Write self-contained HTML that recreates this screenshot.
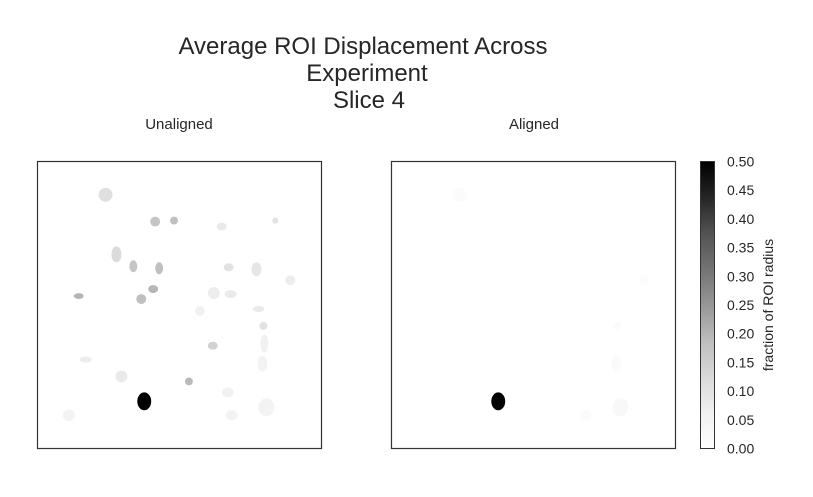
<!DOCTYPE html>
<html><head><meta charset="utf-8"><style>
body{margin:0;background:#fff;}
text{font-family:"Liberation Sans",Arial,sans-serif;fill:#262626;}
</style></head><body>
<svg width="813" height="492" viewBox="0 0 813 492" xmlns="http://www.w3.org/2000/svg">
<defs>
<linearGradient id="cb" x1="0" y1="1" x2="0" y2="0">
<stop offset="0" stop-color="rgb(255,255,255)"/><stop offset="0.125" stop-color="rgb(240,240,240)"/><stop offset="0.25" stop-color="rgb(217,217,217)"/><stop offset="0.375" stop-color="rgb(189,189,189)"/><stop offset="0.5" stop-color="rgb(150,150,150)"/><stop offset="0.625" stop-color="rgb(115,115,115)"/><stop offset="0.75" stop-color="rgb(82,82,82)"/><stop offset="0.875" stop-color="rgb(37,37,37)"/><stop offset="1" stop-color="rgb(0,0,0)"/>
</linearGradient>
</defs>
<text x="363" y="54" font-size="24" text-anchor="middle">Average ROI Displacement Across</text>
<text x="367" y="81" font-size="24" text-anchor="middle">Experiment</text>
<text x="369" y="108" font-size="24" text-anchor="middle">Slice 4</text>
<text x="179" y="129" font-size="15" text-anchor="middle">Unaligned</text>
<text x="534" y="129" font-size="15" text-anchor="middle">Aligned</text>
<g id="left"></g>
<g id="right"></g>
<rect x="37.5" y="161.5" width="284" height="287" fill="none" stroke="#333" stroke-width="1.2"/>
<rect x="391.5" y="161.5" width="284" height="287" fill="none" stroke="#333" stroke-width="1.2"/>
<rect x="700.5" y="161.5" width="14" height="287" fill="url(#cb)" stroke="#333" stroke-width="1"/>
<g id="cbticks"></g>
<text transform="translate(773,305) rotate(-90)" font-size="14" text-anchor="middle">fraction of ROI radius</text>
</svg>
<script>
const roiX=[68,118,137,185,239,79,96,122,192,220,254,41,116,104,177,194,163,222,227,176,228,226,48,84,152,191,107,230,195,31];
const roiY=[33,60,59,65,59,93,105,107,106,108,119,135,128,138,132,133,150,148,165,185,183,203,199,216,221,232,241,247,255,255];
const roiRx=[7,5,4,5,3,5,4,4,5,5,5,5,5,5,6,6,5,6,4,5,4,5,6,6,4,6,7,8,6,6];
const roiRy=[7,5,4,4,3,8,6,6,4,7,5,3,4,5,6,4,5,3,4,4,9,8,3,6,4,5,9,9,5,6];
const unalignedVals=[0.11,0.17,0.18,0.08,0.1,0.12,0.17,0.18,0.1,0.09,0.07,0.2,0.2,0.18,0.07,0.08,0.06,0.08,0.1,0.14,0.06,0.05,0.07,0.08,0.19,0.06,0.5,0.05,0.05,0.05];
const alignedVals=[0.015,0,0,0,0,0,0,0,0,0,0.015,0,0,0,0,0,0,0,0.015,0,0,0.02,0,0,0,0,0.5,0.03,0.02,0];
const cbTicks=[0,0.05,0.1,0.15,0.2,0.25,0.3,0.35,0.4,0.45,0.5];
const vmax=0.5, imgSize=286;
const greys=[255,240,217,189,150,115,82,37,0];
function col(v){let t=Math.max(0,Math.min(1,v/vmax))*8;let i=Math.min(7,Math.floor(t));let g=Math.round(greys[i]+(greys[i+1]-greys[i])*(t-i));return `rgb(${g},${g},${g})`;}
const NS="http://www.w3.org/2000/svg";
function draw(gid,x0,vals,pre){
  const g=document.getElementById(gid);const s=284/imgSize;
  roiX.forEach((x,i)=>{if(vals[i]<=0)return;
    const e=document.createElementNS(NS,'ellipse');
    
    
    e.setAttribute('cx',x0+x*s);e.setAttribute('cy',162+roiY[i]*s);
    e.setAttribute('rx',roiRx[i]*s);e.setAttribute('ry',roiRy[i]*s);
    e.setAttribute('fill',col(vals[i]));g.appendChild(e);});
}
draw('left',38,unalignedVals,'unaligned');
draw('right',392,alignedVals,'aligned');
const tg=document.getElementById('cbticks');
cbTicks.forEach(v=>{const y=448.5-v/vmax*287;
  const t=document.createElementNS(NS,'text');
  
  
  t.setAttribute('x',727);t.setAttribute('y',y+5);t.setAttribute('font-size','14');
  t.textContent=v.toFixed(2);tg.appendChild(t);});
</script>
</body></html>
